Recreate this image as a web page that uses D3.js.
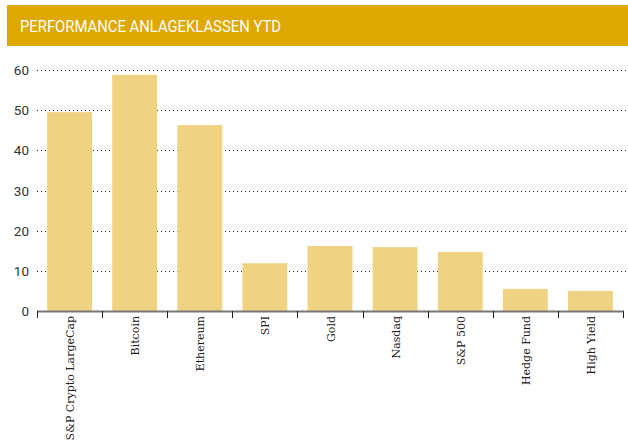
<!DOCTYPE html>
<html>
<head>
<meta charset="utf-8">
<script src="https://cdn.jsdelivr.net/npm/d3@7"></script>
<style>
  body { margin: 0; background: #fff; }
</style>
</head>
<body>
<svg width="628" height="442"></svg>
<script>
// chart data
const categories = ['S&P Crypto LargeCap', 'Bitcoin', 'Ethereum', 'SPI', 'Gold', 'Nasdaq', 'S&P 500', 'Hedge Fund', 'High Yield'];
const values = [49.5, 58.8, 46.3, 11.9, 16.2, 15.9, 14.7, 5.5, 5.0];
const yTicks = [0, 10, 20, 30, 40, 50, 60];
const title = 'PERFORMANCE ANLAGEKLASSEN YTD';

const svg = d3.select('svg');

// header bar
svg.append('rect')
  .attr('x', 7).attr('y', 5)
  .attr('width', 621).attr('height', 41)
  .attr('fill', '#dea800');

svg.append('text')
  .attr('x', 20).attr('y', 32)
  .attr('fill', '#fff')
  .attr('font-family', 'Roboto, sans-serif')
  .attr('font-size', 17)
  .attr('textLength', 261)
  .attr('lengthAdjust', 'spacingAndGlyphs')
  .text(title);

const y = d3.scaleLinear()
  .domain([0, 60])
  .range([311, 70]);

const x = d3.scaleBand()
  .domain(categories)
  .range([37, 623])
  .paddingInner(0.31)
  .paddingOuter(0.155);

// grid lines
svg.append('g')
  .selectAll('line')
  .data(yTicks.filter(d => d > 0))
  .join('line')
    .attr('x1', 37).attr('x2', 626)
    .attr('y1', d => Math.round(y(d)) + 0.5)
    .attr('y2', d => Math.round(y(d)) + 0.5)
    .attr('stroke', '#222')
    .attr('stroke-width', 1)
    .attr('stroke-dasharray', '1,3');

// y labels
svg.append('g')
  .selectAll('text')
  .data(yTicks)
  .join('text')
    .attr('x', 29)
    .attr('y', d => y(d) + 5)
    .attr('text-anchor', 'end')
    .attr('fill', '#333')
    .attr('font-family', 'Roboto, sans-serif')
    .attr('font-size', 13.5)
    .text(d => d);

// bars
svg.append('g')
  .selectAll('rect')
  .data(values)
  .join('rect')
    .attr('x', (d, i) => x(categories[i]))
    .attr('y', d => y(d))
    .attr('width', x.bandwidth())
    .attr('height', d => y(0) - y(d))
    .attr('fill', '#f0d283');

// x axis
const step = x.step();
const bounds = d3.range(categories.length + 1).map(i => 37 + i * step);

svg.append('line')
  .attr('x1', 37).attr('x2', 624)
  .attr('y1', 311.5).attr('y2', 311.5)
  .attr('stroke', '#777')
  .attr('stroke-width', 2);

svg.append('g')
  .selectAll('line')
  .data(bounds)
  .join('line')
    .attr('x1', d => Math.round(d) + 0.5).attr('x2', d => Math.round(d) + 0.5)
    .attr('y1', 311).attr('y2', 318)
    .attr('stroke', '#222')
    .attr('stroke-width', 1);

svg.append('g')
  .selectAll('text')
  .data(categories)
  .join('text')
    .attr('transform', d => `translate(${x(d) + x.bandwidth() / 2 + 4.5},316) rotate(-90)`)
    .attr('text-anchor', 'end')
    .attr('fill', '#222')
    .attr('font-family', 'DejaVu Serif, serif')
    .attr('font-size', 11)
    .text(d => d);
</script>
</body>
</html>
